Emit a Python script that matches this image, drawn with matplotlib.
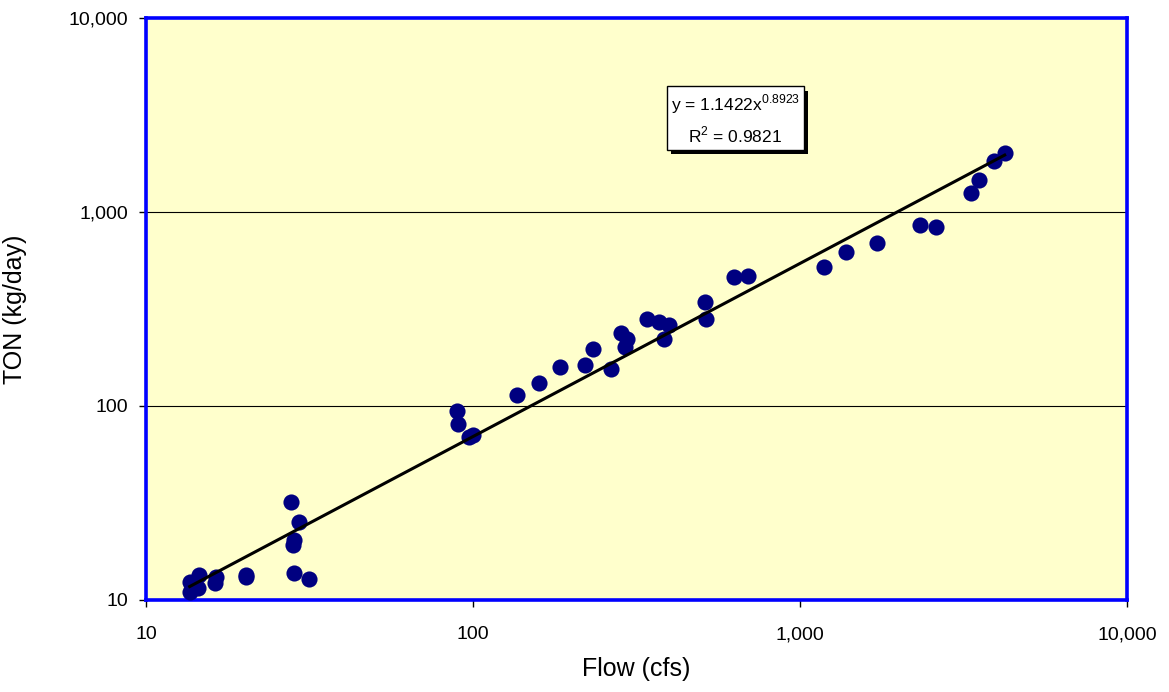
import matplotlib.pyplot as plt
import matplotlib.ticker as mticker
import matplotlib.patheffects as pe
import numpy as np

plt.rcParams['font.family'] = ['Liberation Sans', 'DejaVu Sans']

# Flow (cfs) and TON load (kg/day)
flow = [13.6, 13.6, 14.4, 14.5, 16.2, 16.4, 20.2, 20.2, 27.8, 29.4, 28.4, 28.2,
        28.4, 31.6, 89.6, 90.0, 97.4, 100.0, 136.7, 159.6, 185.0, 220.6, 233.5,
        265.0, 284.5, 296.7, 292.5, 341.7, 371.7, 399.0, 385.2, 514.0, 517.7,
        630.0, 696.0, 1181.0, 1379.0, 1716.0, 2323.0, 2602.0, 3327.0, 3523.0,
        3915.0, 4228.0]
ton = [12.4, 11.0, 11.5, 13.5, 12.2, 13.1, 13.5, 13.1, 32.0, 25.2, 20.4, 19.2,
       13.8, 12.8, 94.2, 80.8, 69.2, 70.9, 114.0, 131.4, 159.0, 162.6, 196.7,
       155.0, 237.9, 221.5, 201.5, 280.7, 271.0, 261.6, 221.5, 343.6, 280.7,
       462.0, 468.0, 520.0, 622.0, 692.6, 857.0, 837.0, 1253.0, 1462.0,
       1832.0, 2015.0]

# power trend line reported on the chart
coef, expo, r2 = 1.1422, 0.8923, 0.9821

fig = plt.figure(figsize=(11.69, 6.92), dpi=100)
ax = fig.add_axes([0.1249, 0.133, 0.8391, 0.841])
ax.set_facecolor('#FFFFCC')

ax.set_xscale('log')
ax.set_yscale('log')
ax.set_xlim(10, 10000)
ax.set_ylim(10, 10000)

ax.scatter(flow, ton, s=135, color='#000080', zorder=3, linewidths=0)

xs = np.logspace(np.log10(min(flow)), np.log10(max(flow)), 50)
ax.plot(xs, coef * xs ** expo, color='black', linewidth=2.2, zorder=4)

# gridlines only at the inner decades
for yv in [100, 1000]:
    ax.axhline(yv, color='black', linewidth=0.8, zorder=1)

fmt = mticker.FuncFormatter(lambda v, p: f'{v:,.0f}')
for axis in (ax.xaxis, ax.yaxis):
    axis.set_major_locator(mticker.FixedLocator([10, 100, 1000, 10000]))
    axis.set_major_formatter(fmt)
    axis.set_minor_locator(mticker.NullLocator())
ax.tick_params(axis='both', which='major', labelsize=14, direction='out',
               length=5, width=1, color='black', pad=8)
ax.tick_params(axis='x', pad=14)

for s in ax.spines.values():
    s.set_color('#0000FF')
    s.set_linewidth(2.6)

ax.set_xlabel('Flow (cfs)', fontsize=18, labelpad=10)
ax.set_ylabel('TON (kg/day)', fontsize=18, labelpad=30)

txt = ax.text(0.601, 0.826,
              f'y = {coef}x$^{{\\mathregular{{{expo}}}}}$\nR$^{{\\mathregular{{2}}}}$ = {r2}',
              transform=ax.transAxes, ha='center', va='center', fontsize=12.5,
              multialignment='center', linespacing=1.5, zorder=6,
              bbox=dict(boxstyle='square,pad=0.22', facecolor='white',
                        edgecolor='black', linewidth=1))
txt.get_bbox_patch().set_path_effects(
    [pe.SimplePatchShadow(offset=(3, -3), shadow_rgbFace='black', alpha=1.0),
     pe.Normal()])

fig.savefig('out.png', dpi=100)
